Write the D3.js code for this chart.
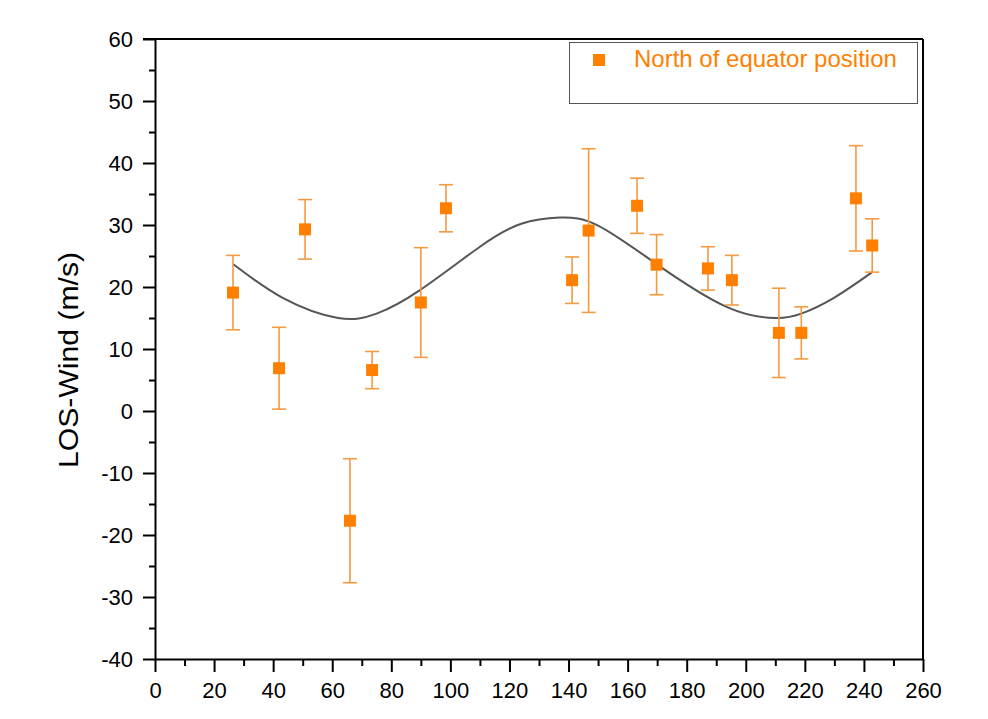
<!DOCTYPE html>
<html>
<head>
    <meta charset="utf-8">
    <style> body { margin: 0; background: #fff; } </style>
    <script src="https://d3js.org/d3.v7.min.js"></script>
</head>
<body>
    <svg id="chart" width="988" height="719"></svg>

    <script>
        // measured points (x position, LOS wind m/s, error)
        var xVals = [26.4, 42.0, 50.8, 66.0, 73.5, 90.0, 98.5, 141.2, 146.8, 163.2, 169.8, 187.2, 195.3, 211.2, 218.8, 237.3, 242.8]
        var windVals = [19.1, 6.9, 29.3, -17.7, 6.6, 17.5, 32.7, 21.1, 29.1, 33.1, 23.6, 23.0, 21.1, 12.6, 12.6, 34.3, 26.7]
        var errVals = [6.0, 6.6, 4.8, 10.0, 3.0, 8.85, 3.8, 3.75, 13.2, 4.45, 4.85, 3.5, 4.0, 7.2, 4.2, 8.5, 4.3]

        // fit curve
        var fitX = [26.4, 43.4, 62, 75, 89.7, 110, 124, 137, 150, 169.8, 193.5, 210, 218.8, 230, 242.8]
        var fitY = [23.7, 18.2, 15.0, 15.7, 19.5, 26.5, 30.2, 31.2, 29.9, 23.7, 16.8, 15.0, 15.7, 18.3, 22.4]

        var xTicks = d3.range(0, 261, 20)
        var xMinor = d3.range(10, 260, 20)
        var yTicks = d3.range(-40, 61, 10)
        var yMinor = d3.range(-35, 60, 10)

        var legendLabel = "North of equator position"
        var yTitle = "LOS-Wind (m/s)"

        let marginTop = 39
        let marginRight = 65
        let marginBottom = 60
        let marginLeft = 155
        let width = 988
        let height = 719

        const orange = "#ff8000"
        const barColor = "#f59a40"
        const font = "'Liberation Sans', Arial, sans-serif"

        const svg = d3.select('#chart')
            .attr("viewBox", [0, 0, width, height])
            .style("font-family", font);

        let x = d3.scaleLinear()
            .domain([0, 260])
            .range([marginLeft, width - marginRight]);

        let y = d3.scaleLinear()
            .domain([-40, 60])
            .range([height - marginBottom, marginTop]);

        // frame: top and right
        svg.append("line")
            .attr("x1", x(0) - 12).attr("x2", x(260))
            .attr("y1", y(60)).attr("y2", y(60))
            .attr("stroke", "#000").attr("stroke-width", 2)
        svg.append("line")
            .attr("x1", x(260)).attr("x2", x(260))
            .attr("y1", y(60)).attr("y2", y(-40))
            .attr("stroke", "#000").attr("stroke-width", 2)

        // minor ticks
        svg.append("g")
            .attr("transform", `translate(0,${y(-40)})`)
            .call(d3.axisBottom(x).tickValues(xMinor).tickSize(7).tickFormat(""))
            .call(g => g.select(".domain").remove())
            .selectAll("line").attr("stroke-width", 2)
        svg.append("g")
            .attr("transform", `translate(${x(0)},0)`)
            .call(d3.axisLeft(y).tickValues(yMinor).tickSize(6).tickFormat(""))
            .call(g => g.select(".domain").remove())
            .selectAll("line").attr("stroke-width", 2)

        // major axes (plain hyphen for negatives, like the original)
        var fmt = d => String(d)
        var xAxis = svg.append("g")
            .attr("transform", `translate(0,${y(-40)})`)
            .call(d3.axisBottom(x).tickValues(xTicks).tickFormat(fmt).tickSize(13).tickPadding(10).tickSizeOuter(0))
        var yAxis = svg.append("g")
            .attr("transform", `translate(${x(0)},0)`)
            .call(d3.axisLeft(y).tickValues(yTicks).tickFormat(fmt).tickSize(12).tickPadding(10).tickSizeOuter(0))

        ;[xAxis, yAxis].forEach(a => {
            a.selectAll("text")
                .style("font-size", "22px")
                .style("font-family", font)
                .style("fill", "#000")
            a.selectAll("line").attr("stroke-width", 2)
            a.select(".domain").attr("stroke-width", 2)
        })

        svg.append("text")
            .attr("transform", `translate(78,360) rotate(-90)`)
            .attr("text-anchor", "middle")
            .attr("textLength", 216)
            .attr("lengthAdjust", "spacingAndGlyphs")
            .style("font-size", "27px")
            .text(yTitle)

        // fit line
        svg.append("path")
            .datum(d3.zip(fitX, fitY))
            .attr("fill", "none")
            .attr("stroke", "#555")
            .attr("stroke-width", 2)
            .attr("d", d3.line().x(d => x(d[0])).y(d => y(d[1])).curve(d3.curveNatural))

        // error bars
        var pts = d3.range(xVals.length)
        var bars = svg.append("g")
            .attr("stroke", barColor)
            .attr("stroke-width", 1.6)
        bars.selectAll(".stem")
            .data(pts)
            .join("line")
                .attr("x1", i => x(xVals[i])).attr("x2", i => x(xVals[i]))
                .attr("y1", i => y(windVals[i] + errVals[i]))
                .attr("y2", i => y(windVals[i] - errVals[i]))
        bars.selectAll(".capTop")
            .data(pts)
            .join("line")
                .attr("x1", i => x(xVals[i]) - 7).attr("x2", i => x(xVals[i]) + 7)
                .attr("y1", i => y(windVals[i] + errVals[i]))
                .attr("y2", i => y(windVals[i] + errVals[i]))
        bars.selectAll(".capBot")
            .data(pts)
            .join("line")
                .attr("x1", i => x(xVals[i]) - 7).attr("x2", i => x(xVals[i]) + 7)
                .attr("y1", i => y(windVals[i] - errVals[i]))
                .attr("y2", i => y(windVals[i] - errVals[i]))

        // markers
        svg.append("g")
            .selectAll("rect")
            .data(pts)
            .join("rect")
                .attr("x", i => x(xVals[i]) - 6)
                .attr("y", i => y(windVals[i]) - 6)
                .attr("width", 12)
                .attr("height", 12)
                .attr("fill", orange)

        // legend
        var legend = svg.append("g")
        legend.append("rect")
            .attr("x", 569.5).attr("y", 42.5)
            .attr("width", 348).attr("height", 61)
            .attr("fill", "#fff")
            .attr("stroke", "#555")
            .attr("stroke-width", 1)
        legend.append("rect")
            .attr("x", 593).attr("y", 54)
            .attr("width", 12).attr("height", 12)
            .attr("fill", orange)
        legend.append("text")
            .attr("x", 634).attr("y", 67)
            .attr("fill", orange)
            .style("font-size", "24px")
            .text(legendLabel)
    </script>
</body>
</html>
